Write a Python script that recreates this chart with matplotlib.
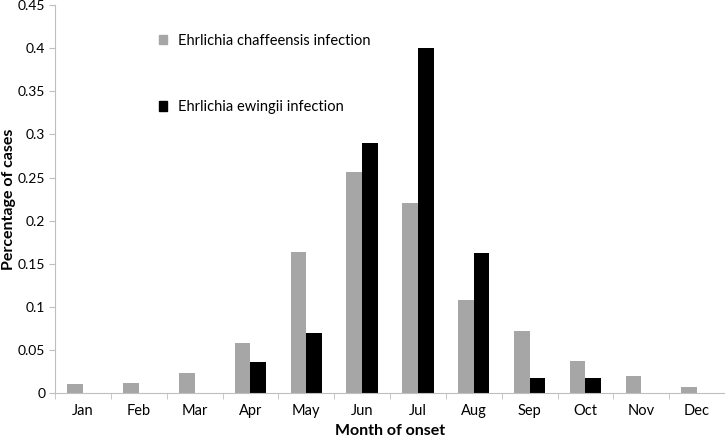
import numpy as np
import matplotlib.pyplot as plt
from matplotlib.patches import Patch

months = ['Jan', 'Feb', 'Mar', 'Apr', 'May', 'Jun',
          'Jul', 'Aug', 'Sep', 'Oct', 'Nov', 'Dec']
chaffeensis = [0.011, 0.012, 0.024, 0.058, 0.164, 0.257,
               0.221, 0.108, 0.072, 0.038, 0.020, 0.007]
ewingii = [0, 0, 0, 0.036, 0.070, 0.290,
           0.400, 0.163, 0.018, 0.018, 0, 0]
y_ticks = [0, 0.05, 0.1, 0.15, 0.2, 0.25, 0.3, 0.35, 0.4, 0.45]
y_labels = ['0', '0.05', '0.1', '0.15', '0.2', '0.25', '0.3', '0.35', '0.4', '0.45']

plt.rcParams['font.family'] = ['Lato', 'DejaVu Sans']

fig = plt.figure(figsize=(7.25, 4.38), dpi=100)
ax = fig.add_axes([0.0759, 0.102, 0.9241, 0.8866])

x = np.arange(len(months))
w = 0.28
ax.bar(x - w / 2, chaffeensis, w, color='#a6a6a6')
ax.bar(x + w / 2, ewingii, w, color='#000000')

ax.set_xlim(-0.5, 11.5)
ax.set_ylim(0, 0.45)
ax.set_yticks(y_ticks)
ax.set_yticklabels(y_labels, fontsize=10)
ax.set_xticks(x)
ax.set_xticklabels(months, fontsize=10.5)
ax.set_xticks(np.arange(-0.5, 12, 1), minor=True)
ax.tick_params(axis='x', which='major', length=0, pad=8)
ax.tick_params(axis='x', which='minor', length=4, color='#bfbfbf')
ax.tick_params(axis='y', length=4, color='#bfbfbf', pad=3)

for s in ['top', 'right']:
    ax.spines[s].set_visible(False)
for s in ['left', 'bottom']:
    ax.spines[s].set_color('#bfbfbf')

ax.set_ylabel('Percentage of cases', fontsize=11.5, fontweight='bold')
ax.yaxis.set_label_coords(-0.058, 0.5)
ax.set_xlabel('Month of onset', fontsize=11.5, fontweight='bold', labelpad=4)

handles = [Patch(color='#a6a6a6'), Patch(color='#000000')]
ax.legend(handles, ['Ehrlichia chaffeensis infection', 'Ehrlichia ewingii infection'],
          loc='upper left', bbox_to_anchor=(0.135, 0.96), frameon=False,
          fontsize=10.5, handlelength=0.6, handleheight=0.6, handletextpad=0.7,
          labelspacing=3.6)

fig.savefig('out.png', dpi=100)
